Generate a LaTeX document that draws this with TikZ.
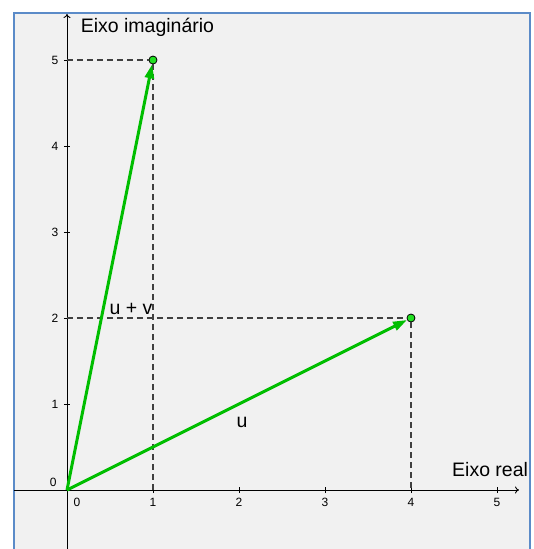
\documentclass[tikz,border=0pt]{standalone}
\usepackage{fontspec}
\setmainfont{Liberation Sans}
\usepackage{tikz}
\usetikzlibrary{arrows.meta}
\definecolor{vecGreen}{HTML}{00BE00}
\definecolor{pointGreen}{HTML}{22E022}
\definecolor{frameBlue}{HTML}{5B8BC8}
\definecolor{panelGray}{HTML}{F1F1F1}
\definecolor{guideGray}{HTML}{404040}

\begin{document}
\begin{tikzpicture}[x=86pt, y=86pt,
    vec/.style={vecGreen, line width=3pt, -{Triangle[length=14pt,width=9pt]}},
    pt/.style={circle, draw=black, line width=0.8pt, fill=pointGreen, inner sep=0pt, minimum size=8pt},
    guide/.style={guideGray, line width=1.2pt, dash pattern=on 6pt off 4pt},
    lbl/.style={font=\fontsize{19.5}{22}\selectfont},
    tick/.style={font=\fontsize{12}{14}\selectfont}]
    \useasboundingbox (-0.779,-0.686) rectangle (5.419,5.698);
    \fill[panelGray] (-0.616,-0.75) rectangle (5.384,5.547);
    \draw[frameBlue, line width=2pt] (-0.616,-0.75) -- (-0.616,5.547) -- (5.384,5.547) -- (5.384,-0.75);

    % axes
    \coordinate (O) at (0,0);
    \coordinate (xs) at (-0.616,0);
    \coordinate (xe) at (5.256,0);
    \coordinate (ys) at (0,-0.75);
    \coordinate (ye) at (0,5.535);
    \draw[-{To[length=4pt,width=7pt]}, line width=0.9pt] (xs) -- (xe);
    \draw[-{To[length=4pt,width=7pt]}, line width=0.9pt] (ys) -- (ye);
    \foreach \i in {1,...,5} {
        \draw[line width=0.9pt] (\i,-0.035) -- (\i,0.035);
        \draw[line width=0.9pt] (-0.035,\i) -- (0.035,\i);
        \node[tick] (xl\i) at (\i,-0.14) {\i};
        \node[tick] (yl\i) at (-0.14,\i) {\i};
    }
    \node[tick] (xl0) at (0.116,-0.14) {0};
    \node[tick] (yl0) at (-0.16,0.085) {0};
    \node[lbl] (imag) at (0.936,5.384) {Eixo imagin\'ario};
    \node[lbl] (real) at (4.92,0.233) {Eixo real};

    % points and guides
    \node[pt] (A) at (1,5) {};
    \node[pt] (B) at (4,2) {};
    \coordinate (A0) at (0,5);
    \coordinate (A1) at (1,0);
    \coordinate (B0) at (0,2);
    \coordinate (B1) at (4,0);
    \draw[guide] (A0) -- (A);
    \draw[guide] (A) -- (A1);
    \draw[guide] (B0) -- (B);
    \draw[guide] (B) -- (B1);

    % vectors
    \draw[vec] (O) -- (A);
    \draw[vec] (O) -- (B);
    \node[lbl] (uv) at (0.744,2.105) {u + v};
    \node[lbl] (u) at (2.035,0.79) {u};
\end{tikzpicture}
\end{document}
